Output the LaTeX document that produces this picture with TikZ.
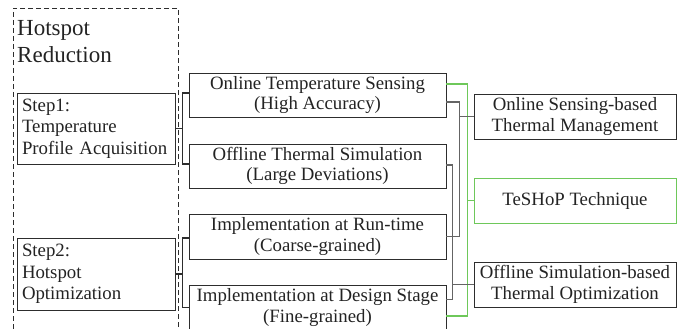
\documentclass[tikz,border=0pt]{standalone}
\usepackage{fontspec}
\setmainfont{Liberation Serif}
\usetikzlibrary{positioning,calc}
\definecolor{boxc}{RGB}{45,45,45}
\definecolor{linec}{RGB}{100,100,100}
\definecolor{greenc}{RGB}{110,200,90}
\definecolor{textc}{RGB}{35,35,35}
\tikzset{
  box/.style={draw=boxc, line width=0.9pt, rectangle, inner sep=0pt, align=center, text=textc,
    font=\rmfamily\fontsize{18.8}{20.5}\selectfont},
  midbox/.style={box, minimum width=257pt, minimum height=44pt},
  rbox/.style={box, minimum width=202pt, minimum height=45pt},
  stepbox/.style={box, minimum width=158pt, align=left, text width=148pt, inner xsep=5pt, inner ysep=0pt,
    font=\rmfamily\fontsize{18.8}{21.5}\selectfont},
  gline/.style={draw=linec, line width=1.3pt},
  grline/.style={draw=greenc, line width=1.3pt},
}
\begin{document}
\begin{tikzpicture}[x=1pt,y=-1pt]
\useasboundingbox (0,0) rectangle (683,329);
% dashed group
\draw[boxc, line width=0.8pt, dash pattern=on 5pt off 3pt] (178,335) -- (178,8) -- (13,8) -- (13,335);
\node[anchor=north west, inner sep=0pt, align=left, text=textc, font=\rmfamily\fontsize{23}{27}\selectfont] (title) at (17,20) {Hotspot\\Reduction};
% step boxes
\node[stepbox, minimum height=71pt] (s1) at (96,128.5) {Step1:\\Temperature\\Profile Acquisition};
\node[stepbox, minimum height=72pt] (s2) at (96,274) {Step2:\\Hotspot\\Optimization};
% middle boxes
\node[midbox] (b1) at (317.5,95) {Online Temperature Sensing\\(High Accuracy)};
\node[midbox] (b2) at (317.5,166) {Offline Thermal Simulation\\(Large Deviations)};
\node[midbox, minimum height=45pt] (b3) at (317.5,236.5) {Implementation at Run-time\\(Coarse-grained)};
\node[midbox, minimum height=45pt] (b4) at (317.5,307.5) {Implementation at Design Stage\\(Fine-grained)};
% right boxes
\node[rbox] (A) at (575,116.5) {Online Sensing-based\\Thermal Management};
\node[rbox, draw=greenc] (B) at (575,200.5) {TeSHoP Technique};
\node[rbox] (C) at (575,284.5) {Offline Simulation-based\\Thermal Optimization};
% left brackets
\draw[boxc, line width=1.2pt] (s1.east) -- ++(7,0) coordinate (k1);
\draw[boxc, line width=1.2pt] ([yshift=2pt]b1.west) -| (k1) |- ([yshift=2pt]b2.west);
\draw[boxc, line width=1.2pt] (s2.east) -- ++(7,0) coordinate (k2);
\draw[boxc, line width=1.2pt] ([yshift=-1.5pt]b3.west) -| (k2) |- (b4.west);
% junctions
\path (A.west) ++(-14,0) coordinate (j1);
\path (C.west) ++(-21,0) coordinate (j2);
\path (B.west) ++(-6,0) coordinate (j3);
% green connector
\draw[grline] ([yshift=11pt]b1.east) -| (j3) |- ([yshift=-8.5pt]b4.east);
\draw[grline] (j3) -- (B.west);
% gray connectors
\draw[gline] ([yshift=-7pt]b1.east) -| (j1) |- (b3.east);
\draw[gline] (j1) -- (A.west);
\draw[gline] ([yshift=1pt]b2.east) -| (j2) |- ([yshift=8pt]b4.east);
\draw[gline] (j2) -- (C.west);
\end{tikzpicture}
\end{document}
